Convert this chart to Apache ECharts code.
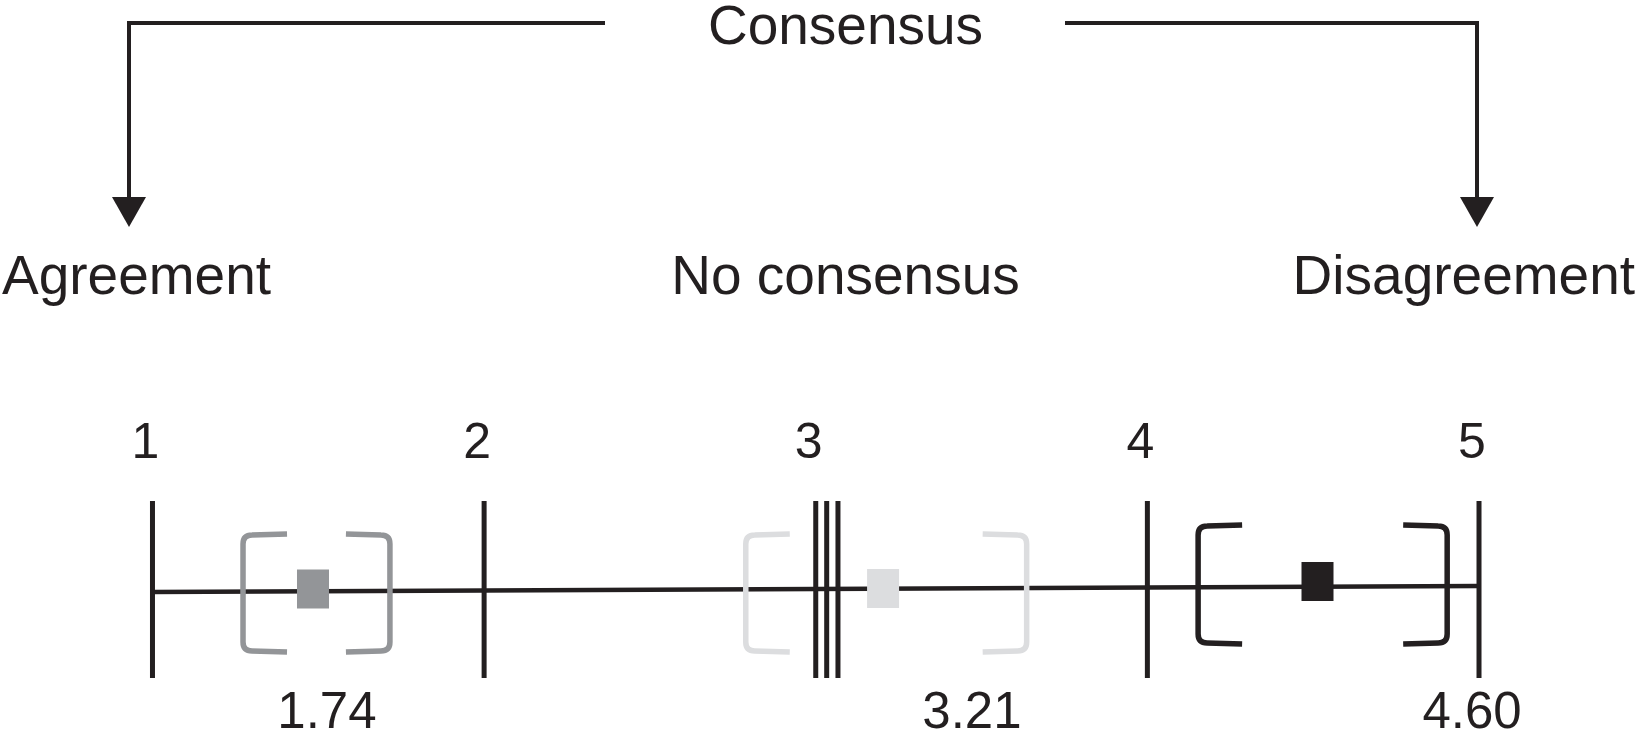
<!DOCTYPE html>
<html>
<head>
<meta charset="utf-8">
<title>Consensus scale</title>
<script src="https://cdn.jsdelivr.net/npm/echarts@6/dist/echarts.min.js"></script>
<style>
  html, body { margin: 0; padding: 0; background: #fff; }
  #chart { width: 1637px; height: 746px; }
</style>
</head>
<body>
<div id="chart"></div>
<script>
// scale ticks along the consensus axis
const tickValues = [1, 2, 3, 4, 5];
const tickLabels = ['1', '2', '3', '4', '5'];
// the two extra strokes drawn next to 3
const extraTicks = [3.033, 3.067];

// three groups: square position, bracket ends, printed mean
const groupMeans = [1.484, 3.203, 4.513];
const groupLow = [1.273, 2.789, 4.153];
const groupHigh = [1.716, 3.636, 4.904];
const meanLabels = ['1.74', '3.21', '4.60'];
const meanLabelAt = [1.526, 3.471, 4.979];

const headerTitle = 'Consensus';
const headerLabels = ['Agreement', 'No consensus', 'Disagreement'];

// styling / layout
const INK = '#231f20';
const groupColors = ['#939598', '#dcdddf', '#231f20'];
const FONT_FAMILY = '"Liberation Sans", Arial, Helvetica, sans-serif';
const lineY = [592, 586];          // axis line at 1 and at 5
const tickTop = 501, tickBottom = 678;
const bracketTop = [535, 535, 526];
const bracketBottom = [651, 651, 643];
const squareY = [589, 588.5, 581.5];
const ARM = 44, CORNER = 9;

function txt(text, x, y, size, align) {
  return {
    type: 'text', x: x, y: y, silent: true,
    style: {
      text: text, font: size + 'px ' + FONT_FAMILY, fill: INK,
      align: align, verticalAlign: 'middle',
      textAlign: align, textVerticalAlign: 'middle'
    }
  };
}

const chart = echarts.init(document.getElementById('chart'));

chart.setOption({
  animation: false,
  grid: { left: 0, right: 0, top: 0, bottom: 0 },
  xAxis: { type: 'value', min: 0.5402, max: 5.4764, show: false },
  yAxis: { type: 'value', min: 0, max: 746, inverse: true, show: false },
  graphic: [
    txt(headerTitle, 845.5, 29, 55, 'center'),
    {
      type: 'polyline', silent: true,
      shape: { points: [[605, 23], [129, 23], [129, 200]] },
      style: { stroke: INK, lineWidth: 4, fill: null }
    },
    {
      type: 'polygon', silent: true,
      shape: { points: [[112, 197], [146, 197], [129, 227]] },
      style: { fill: INK }
    },
    {
      type: 'polyline', silent: true,
      shape: { points: [[1065, 23], [1477, 23], [1477, 200]] },
      style: { stroke: INK, lineWidth: 4, fill: null }
    },
    {
      type: 'polygon', silent: true,
      shape: { points: [[1460, 197], [1494, 197], [1477, 227]] },
      style: { fill: INK }
    },
    txt(headerLabels[0], 2, 279, 55, 'left'),
    txt(headerLabels[1], 845.5, 279, 55, 'center'),
    txt(headerLabels[2], 1635, 279, 55, 'right')
  ],
  series: [
    {
      name: 'axis',
      type: 'line',
      silent: true,
      symbol: 'none',
      z: 1,
      lineStyle: { color: INK, width: 4.5 },
      data: [[tickValues[0], lineY[0]], [tickValues[tickValues.length - 1], lineY[1]]]
    },
    {
      name: 'ticks',
      type: 'custom',
      silent: true,
      z: 2,
      data: tickValues.concat(extraTicks).map(v => [v, tickTop]),
      renderItem: function (params, api) {
        const x = api.coord([api.value(0), tickTop])[0];
        return {
          type: 'line',
          shape: { x1: x, y1: tickTop, x2: x, y2: tickBottom },
          style: { stroke: INK, lineWidth: 5 }
        };
      }
    },
    {
      name: 'tick labels',
      type: 'custom',
      silent: true,
      z: 2,
      data: tickValues.map((v, i) => [v, 444, i]),
      renderItem: function (params, api) {
        const p = api.coord([api.value(0), api.value(1)]);
        return txt(tickLabels[api.value(2)], p[0] - 7, p[1], 50, 'center');
      }
    },
    {
      name: 'brackets',
      type: 'custom',
      silent: true,
      z: 3,
      data: groupLow.map((lo, i) => [lo, groupHigh[i], i]),
      renderItem: function (params, api) {
        const i = api.value(2);
        const t = bracketTop[i], b = bracketBottom[i];
        const xl = api.coord([api.value(0), t])[0];
        const xr = api.coord([api.value(1), t])[0];
        const r = CORNER;
        const left = 'M ' + (xl + ARM) + ' ' + (t - 1) +
          ' L ' + (xl + r) + ' ' + t +
          ' Q ' + xl + ' ' + t + ' ' + xl + ' ' + (t + r) +
          ' L ' + xl + ' ' + (b - r) +
          ' Q ' + xl + ' ' + b + ' ' + (xl + r) + ' ' + b +
          ' L ' + (xl + ARM) + ' ' + (b + 1);
        const right = 'M ' + (xr - ARM) + ' ' + (t - 1) +
          ' L ' + (xr - r) + ' ' + t +
          ' Q ' + xr + ' ' + t + ' ' + xr + ' ' + (t + r) +
          ' L ' + xr + ' ' + (b - r) +
          ' Q ' + xr + ' ' + b + ' ' + (xr - r) + ' ' + b +
          ' L ' + (xr - ARM) + ' ' + (b + 1);
        const st = { stroke: groupColors[i], lineWidth: 5.5, fill: null };
        return {
          type: 'group',
          children: [
            { type: 'path', shape: { pathData: left }, style: st },
            { type: 'path', shape: { pathData: right }, style: st }
          ]
        };
      }
    },
    {
      name: 'means',
      type: 'scatter',
      silent: true,
      z: 4,
      symbol: 'rect',
      symbolSize: [32, 39],
      data: groupMeans.map((m, i) => ({
        value: [m, squareY[i]],
        itemStyle: { color: groupColors[i], opacity: 1 }
      }))
    },
    {
      name: 'mean labels',
      type: 'custom',
      silent: true,
      z: 4,
      data: meanLabelAt.map((v, i) => [v, 714, i]),
      renderItem: function (params, api) {
        const p = api.coord([api.value(0), api.value(1)]);
        return txt(meanLabels[api.value(2)], p[0], p[1], 51, 'center');
      }
    }
  ]
});
</script>
</body>
</html>
